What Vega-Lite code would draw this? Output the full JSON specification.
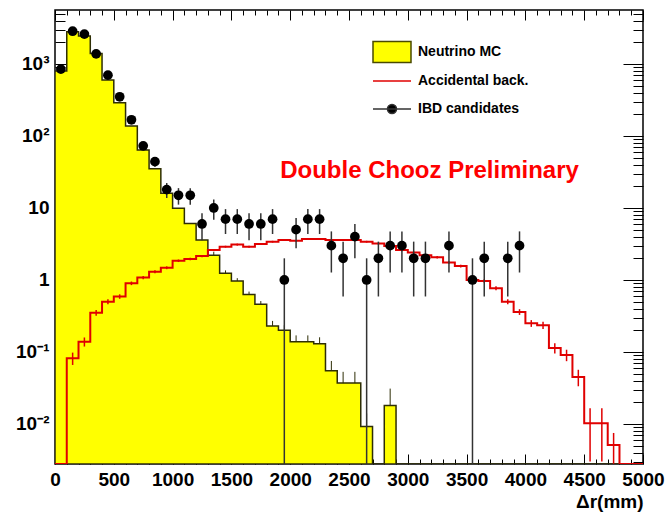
{
  "$schema": "https://vega.github.io/schema/vega-lite/v6.json",
  "width": 588,
  "height": 454,
  "autosize": {"type": "none"},
  "padding": {"left": 55, "top": 10, "right": 25, "bottom": 55},
  "background": "white",
  "config": {
    "view": {"stroke": "black", "strokeWidth": 1.5},
    "font": "Liberation Sans",
    "axis": {"grid": false},
    "legend": {
      "orient": "none", "title": null, "padding": 0,
      "labelFont": "Liberation Sans", "labelFontWeight": "bold", "labelFontSize": 14, "labelColor": "#000000",
      "labelOffset": 6, "symbolSize": 1444, "symbolStrokeWidth": 1.5, "symbolOpacity": 1
    }
  },
  "datasets": {
    "bins": [
      {"lo": 0, "c": 50, "mc": 800, "acc": 0},
      {"lo": 100, "c": 150, "mc": 2800, "acc": 0.082, "acc_lo": 0.066, "acc_hi": 0.098},
      {"lo": 200, "c": 250, "mc": 2450, "acc": 0.139, "acc_lo": 0.119, "acc_hi": 0.159},
      {"lo": 300, "c": 350, "mc": 1400, "acc": 0.35, "acc_lo": 0.318, "acc_hi": 0.382},
      {"lo": 400, "c": 450, "mc": 600, "acc": 0.5, "acc_lo": 0.461, "acc_hi": 0.539},
      {"lo": 500, "c": 550, "mc": 290, "acc": 0.59, "acc_lo": 0.548, "acc_hi": 0.632},
      {"lo": 600, "c": 650, "mc": 138, "acc": 0.9, "acc_lo": 0.848, "acc_hi": 0.952},
      {"lo": 700, "c": 750, "mc": 64, "acc": 1.08, "acc_lo": 1.023, "acc_hi": 1.137},
      {"lo": 800, "c": 850, "mc": 35, "acc": 1.3, "acc_lo": 1.238, "acc_hi": 1.362},
      {"lo": 900, "c": 950, "mc": 16, "acc": 1.48, "acc_lo": 1.413, "acc_hi": 1.547},
      {"lo": 1000, "c": 1050, "mc": 9.9, "acc": 1.85, "acc_lo": 1.775, "acc_hi": 1.925},
      {"lo": 1100, "c": 1150, "mc": 6.1, "acc": 1.96, "acc_lo": 1.883, "acc_hi": 2.037},
      {"lo": 1200, "c": 1250, "mc": 3.6, "acc": 2.15, "acc_lo": 2.07, "acc_hi": 2.23},
      {"lo": 1300, "c": 1350, "mc": 2.2, "mc_hi": 2.45, "acc": 2.6, "acc_lo": 2.51, "acc_hi": 2.69},
      {"lo": 1400, "c": 1450, "mc": 1.24, "mc_hi": 1.36, "acc": 2.9, "acc_lo": 2.81, "acc_hi": 2.99},
      {"lo": 1500, "c": 1550, "mc": 0.97, "mc_hi": 1.06, "acc": 3.1, "acc_lo": 3.0, "acc_hi": 3.2},
      {"lo": 1600, "c": 1650, "mc": 0.63, "mc_hi": 0.69, "acc": 2.9, "acc_lo": 2.81, "acc_hi": 2.99},
      {"lo": 1700, "c": 1750, "mc": 0.46, "mc_hi": 0.51, "acc": 3.16, "acc_lo": 3.06, "acc_hi": 3.26},
      {"lo": 1800, "c": 1850, "mc": 0.23, "mc_hi": 0.27, "acc": 3.4, "acc_lo": 3.3, "acc_hi": 3.5},
      {"lo": 1900, "c": 1950, "mc": 0.2, "mc_hi": 0.235, "acc": 3.6, "acc_lo": 3.5, "acc_hi": 3.7},
      {"lo": 2000, "c": 2050, "mc": 0.139, "mc_hi": 0.17, "acc": 3.5, "acc_lo": 3.4, "acc_hi": 3.6},
      {"lo": 2100, "c": 2150, "mc": 0.139, "mc_hi": 0.17, "acc": 3.7, "acc_lo": 3.6, "acc_hi": 3.8},
      {"lo": 2200, "c": 2250, "mc": 0.13, "mc_hi": 0.16, "acc": 3.7, "acc_lo": 3.6, "acc_hi": 3.8},
      {"lo": 2300, "c": 2350, "mc": 0.055, "mc_hi": 0.075, "acc": 3.6, "acc_lo": 3.5, "acc_hi": 3.7},
      {"lo": 2400, "c": 2450, "mc": 0.037, "mc_hi": 0.053, "acc": 3.6, "acc_lo": 3.5, "acc_hi": 3.7},
      {"lo": 2500, "c": 2550, "mc": 0.037, "mc_hi": 0.053, "acc": 3.6, "acc_lo": 3.5, "acc_hi": 3.7},
      {"lo": 2600, "c": 2650, "mc": 0.0092, "mc_hi": 0.014, "acc": 3.4, "acc_lo": 3.3, "acc_hi": 3.5},
      {"lo": 2700, "c": 2750, "mc": 0, "acc": 3.2, "acc_lo": 3.1, "acc_hi": 3.3},
      {"lo": 2800, "c": 2850, "mc": 0.018, "mc_hi": 0.031, "acc": 2.96, "acc_lo": 2.87, "acc_hi": 3.05},
      {"lo": 2900, "c": 2950, "mc": 0, "acc": 2.6, "acc_lo": 2.51, "acc_hi": 2.69},
      {"lo": 3000, "c": 3050, "mc": 0, "acc": 2.4, "acc_lo": 2.32, "acc_hi": 2.48},
      {"lo": 3100, "c": 3150, "mc": 0, "acc": 2.2, "acc_lo": 2.12, "acc_hi": 2.28},
      {"lo": 3200, "c": 3250, "mc": 0, "acc": 2.07, "acc_lo": 1.99, "acc_hi": 2.15},
      {"lo": 3300, "c": 3350, "mc": 0, "acc": 1.75, "acc_lo": 1.68, "acc_hi": 1.82},
      {"lo": 3400, "c": 3450, "mc": 0, "acc": 1.56, "acc_lo": 1.49, "acc_hi": 1.63},
      {"lo": 3500, "c": 3550, "mc": 0, "acc": 1.0, "acc_lo": 0.945, "acc_hi": 1.055},
      {"lo": 3600, "c": 3650, "mc": 0, "acc": 0.97, "acc_lo": 0.916, "acc_hi": 1.024},
      {"lo": 3700, "c": 3750, "mc": 0, "acc": 0.77, "acc_lo": 0.722, "acc_hi": 0.818},
      {"lo": 3800, "c": 3850, "mc": 0, "acc": 0.5, "acc_lo": 0.461, "acc_hi": 0.539},
      {"lo": 3900, "c": 3950, "mc": 0, "acc": 0.36, "acc_lo": 0.327, "acc_hi": 0.393},
      {"lo": 4000, "c": 4050, "mc": 0, "acc": 0.25, "acc_lo": 0.223, "acc_hi": 0.277},
      {"lo": 4100, "c": 4150, "mc": 0, "acc": 0.235, "acc_lo": 0.208, "acc_hi": 0.262},
      {"lo": 4200, "c": 4250, "mc": 0, "acc": 0.114, "acc_lo": 0.0955, "acc_hi": 0.1325},
      {"lo": 4300, "c": 4350, "mc": 0, "acc": 0.091, "acc_lo": 0.0745, "acc_hi": 0.1075},
      {"lo": 4400, "c": 4450, "mc": 0, "acc": 0.045, "acc_lo": 0.0334, "acc_hi": 0.0566},
      {"lo": 4500, "c": 4550, "mc": 0, "acc": 0.0102, "acc_lo": 0.003, "acc_hi": 0.0165},
      {"lo": 4600, "c": 4650, "mc": 0, "acc": 0.0102, "acc_lo": 0.003, "acc_hi": 0.0165},
      {"lo": 4700, "c": 4750, "mc": 0, "acc": 0.0051, "acc_lo": 0.0028, "acc_hi": 0.0075},
      {"lo": 4800, "c": 4850, "mc": 0, "acc": 0},
      {"lo": 4900, "c": 4950, "mc": 0, "acc": 0},
      {"lo": 5000, "mc": 0, "acc": 0}
    ],
    "ibd": [
      {"c": 50, "n": 850, "lo": 821, "hi": 879},
      {"c": 150, "n": 2850, "lo": 2797, "hi": 2903},
      {"c": 250, "n": 2600, "lo": 2549, "hi": 2651},
      {"c": 350, "n": 1380, "lo": 1343, "hi": 1417},
      {"c": 450, "n": 700, "lo": 674, "hi": 726},
      {"c": 550, "n": 350, "lo": 331, "hi": 369},
      {"c": 650, "n": 168, "lo": 155, "hi": 181},
      {"c": 750, "n": 73, "lo": 64.5, "hi": 81.5},
      {"c": 850, "n": 44, "lo": 37.4, "hi": 50.6},
      {"c": 950, "n": 18, "lo": 13.76, "hi": 22.24},
      {"c": 1050, "n": 15, "lo": 11.13, "hi": 18.87},
      {"c": 1150, "n": 15, "lo": 11.13, "hi": 18.87},
      {"c": 1250, "n": 6, "lo": 3.55, "hi": 8.45},
      {"c": 1350, "n": 10, "lo": 6.84, "hi": 13.16},
      {"c": 1450, "n": 7, "lo": 4.35, "hi": 9.65},
      {"c": 1550, "n": 7, "lo": 4.35, "hi": 9.65},
      {"c": 1650, "n": 6, "lo": 3.55, "hi": 8.45},
      {"c": 1750, "n": 6, "lo": 3.55, "hi": 8.45},
      {"c": 1850, "n": 7, "lo": 4.35, "hi": 9.65},
      {"c": 1950, "n": 1, "lo": 0, "hi": 2},
      {"c": 2050, "n": 5, "lo": 2.76, "hi": 7.24},
      {"c": 2150, "n": 7, "lo": 4.35, "hi": 9.65},
      {"c": 2250, "n": 7, "lo": 4.35, "hi": 9.65},
      {"c": 2350, "n": 3, "lo": 1.27, "hi": 4.73},
      {"c": 2450, "n": 2, "lo": 0.59, "hi": 3.41},
      {"c": 2550, "n": 4, "lo": 2, "hi": 6},
      {"c": 2650, "n": 1, "lo": 0, "hi": 2},
      {"c": 2750, "n": 2, "lo": 0.59, "hi": 3.41},
      {"c": 2850, "n": 3, "lo": 1.27, "hi": 4.73},
      {"c": 2950, "n": 3, "lo": 1.27, "hi": 4.73},
      {"c": 3050, "n": 2, "lo": 0.59, "hi": 3.41},
      {"c": 3150, "n": 2, "lo": 0.59, "hi": 3.41},
      {"c": 3350, "n": 3, "lo": 1.27, "hi": 4.73},
      {"c": 3550, "n": 1, "lo": 0, "hi": 2},
      {"c": 3650, "n": 2, "lo": 0.59, "hi": 3.41},
      {"c": 3850, "n": 2, "lo": 0.59, "hi": 3.41},
      {"c": 3950, "n": 3, "lo": 1.27, "hi": 4.73}
    ]
  },
  "resolve": {"axis": {"x": "independent", "y": "independent"}},
  "layer": [
    {
      "data": {"name": "bins"},
      "mark": {"type": "area", "interpolate": "step-after", "stroke": "#2e2e05", "strokeWidth": 1.5, "clip": true},
      "encoding": {
        "x": {"field": "lo", "type": "quantitative",
          "scale": {"domain": [0, 5000], "nice": false, "zero": false},
          "axis": {"orient": "bottom", "values": [0, 500, 1000, 1500, 2000, 2500, 3000, 3500, 4000, 4500, 5000], "format": "d",
            "ticks": false, "domain": false, "labelFont": "Liberation Sans", "labelFontWeight": "bold", "labelFontSize": 19,
            "labelColor": "black", "labelPadding": 6, "labelFlush": false, "labelOverlap": false,
            "title": "Δr(mm)", "titleAnchor": "end", "titleFont": "Liberation Sans", "titleFontWeight": "bold", "titleFontSize": 19,
            "titleColor": "black", "titlePadding": 3}},
        "y": {"field": "mc", "type": "quantitative",
          "scale": {"type": "log", "domain": [0.00278, 5623], "nice": false, "clamp": true},
          "axis": {"orient": "left", "values": [0.01, 0.1, 1, 10, 100, 1000],
            "labelExpr": "datum.value >= 999 ? '10³' : datum.value >= 99 ? '10²' : datum.value >= 9 ? '10' : datum.value >= 0.9 ? '1' : datum.value >= 0.09 ? '10⁻¹' : '10⁻²'",
            "ticks": false, "domain": false, "labelFont": "Liberation Sans", "labelFontWeight": "bold", "labelFontSize": 19,
            "labelColor": "black", "labelPadding": 6, "labelFlush": false, "labelOverlap": false, "title": null}},
        "y2": {"datum": 0},
        "fill": {"datum": "Neutrino MC", "type": "nominal",
          "scale": {"domain": ["Neutrino MC"], "range": ["#ffff00"]},
          "legend": {"legendX": 317, "legendY": 22, "symbolType": "M-1,-0.55H1V0.55H-1Z", "symbolStrokeColor": "#4a4a00"}}
      }
    },
    {
      "data": {"name": "bins"},
      "transform": [{"filter": "datum.mc_hi > 0"}],
      "mark": {"type": "rule", "color": "#2e2e05", "strokeWidth": 1},
      "encoding": {
        "x": {"field": "c", "type": "quantitative", "scale": {"domain": [0, 5000], "nice": false, "zero": false},
          "axis": {"orient": "bottom", "values": [0, 500, 1000, 1500, 2000, 2500, 3000, 3500, 4000, 4500, 5000],
            "labels": false, "domain": false, "ticks": true, "tickSize": -10, "tickColor": "black", "tickWidth": 1, "title": null}},
        "y": {"field": "mc", "type": "quantitative", "scale": {"type": "log", "domain": [0.00278, 5623], "nice": false, "clamp": true},
          "axis": {"orient": "left", "values": [0.01, 0.1, 1, 10, 100, 1000],
            "labels": false, "domain": false, "ticks": true, "tickSize": -20, "tickColor": "black", "tickWidth": 1, "title": null}},
        "y2": {"field": "mc_hi"}
      }
    },
    {
      "data": {"name": "bins"},
      "mark": {"type": "line", "interpolate": "step-after", "strokeWidth": 2, "clip": true},
      "encoding": {
        "x": {"field": "lo", "type": "quantitative", "scale": {"domain": [0, 5000], "nice": false, "zero": false},
          "axis": {"orient": "bottom", "values": [100, 200, 300, 400, 600, 700, 800, 900, 1100, 1200, 1300, 1400, 1600, 1700, 1800, 1900, 2100, 2200, 2300, 2400, 2600, 2700, 2800, 2900, 3100, 3200, 3300, 3400, 3600, 3700, 3800, 3900, 4100, 4200, 4300, 4400, 4600, 4700, 4800, 4900],
            "labels": false, "domain": false, "ticks": true, "tickSize": -5, "tickColor": "black", "tickWidth": 1, "title": null}},
        "y": {"field": "acc", "type": "quantitative", "scale": {"type": "log", "domain": [0.00278, 5623], "nice": false, "clamp": true},
          "axis": {"orient": "left", "values": [0.003, 0.004, 0.005, 0.006, 0.007, 0.008, 0.009, 0.02, 0.03, 0.04, 0.05, 0.06, 0.07, 0.08, 0.09, 0.2, 0.3, 0.4, 0.5, 0.6, 0.7, 0.8, 0.9, 2, 3, 4, 5, 6, 7, 8, 9, 20, 30, 40, 50, 60, 70, 80, 90, 200, 300, 400, 500, 600, 700, 800, 900, 2000, 3000, 4000, 5000],
            "labels": false, "domain": false, "ticks": true, "tickSize": -10, "tickColor": "black", "tickWidth": 1, "title": null}},
        "stroke": {"datum": "Accidental back.", "type": "nominal",
          "scale": {"domain": ["Accidental back."], "range": ["#e00000"]},
          "legend": {"legendX": 317, "legendY": 51, "symbolType": "M-1,0H1"}}
      }
    },
    {
      "data": {"name": "bins"},
      "transform": [{"filter": "datum.acc_hi > 0"}],
      "mark": {"type": "rule", "strokeWidth": 1.5, "color": "#e00000"},
      "encoding": {
        "x": {"field": "c", "type": "quantitative", "scale": {"domain": [0, 5000], "nice": false, "zero": false},
          "axis": {"orient": "top", "values": [0, 500, 1000, 1500, 2000, 2500, 3000, 3500, 4000, 4500, 5000],
            "labels": false, "domain": false, "ticks": true, "tickSize": -10, "tickColor": "black", "tickWidth": 1, "title": null}},
        "y": {"field": "acc_lo", "type": "quantitative", "scale": {"type": "log", "domain": [0.00278, 5623], "nice": false, "clamp": true},
          "axis": {"orient": "right", "values": [0.01, 0.1, 1, 10, 100, 1000],
            "labels": false, "domain": false, "ticks": true, "tickSize": -20, "tickColor": "black", "tickWidth": 1, "title": null}},
        "y2": {"field": "acc_hi"}
      }
    },
    {
      "data": {"name": "ibd"},
      "mark": {"type": "rule", "strokeWidth": 1.5, "clip": true},
      "encoding": {
        "x": {"field": "c", "type": "quantitative", "scale": {"domain": [0, 5000], "nice": false, "zero": false},
          "axis": {"orient": "top", "values": [100, 200, 300, 400, 600, 700, 800, 900, 1100, 1200, 1300, 1400, 1600, 1700, 1800, 1900, 2100, 2200, 2300, 2400, 2600, 2700, 2800, 2900, 3100, 3200, 3300, 3400, 3600, 3700, 3800, 3900, 4100, 4200, 4300, 4400, 4600, 4700, 4800, 4900],
            "labels": false, "domain": false, "ticks": true, "tickSize": -5, "tickColor": "black", "tickWidth": 1, "title": null}},
        "y": {"field": "lo", "type": "quantitative", "scale": {"type": "log", "domain": [0.00278, 5623], "nice": false, "clamp": true},
          "axis": {"orient": "right", "values": [0.003, 0.004, 0.005, 0.006, 0.007, 0.008, 0.009, 0.02, 0.03, 0.04, 0.05, 0.06, 0.07, 0.08, 0.09, 0.2, 0.3, 0.4, 0.5, 0.6, 0.7, 0.8, 0.9, 2, 3, 4, 5, 6, 7, 8, 9, 20, 30, 40, 50, 60, 70, 80, 90, 200, 300, 400, 500, 600, 700, 800, 900, 2000, 3000, 4000, 5000],
            "labels": false, "domain": false, "ticks": true, "tickSize": -10, "tickColor": "black", "tickWidth": 1, "title": null}},
        "y2": {"field": "hi"},
        "color": {"datum": "IBD candidates", "type": "nominal",
          "scale": {"domain": ["IBD candidates"], "range": ["#333333"]},
          "legend": {"legendX": 317, "legendY": 79, "symbolType": "M-1,0H1M0.24,0A0.24,0.24,0,1,1,-0.24,0A0.24,0.24,0,1,1,0.24,0Z", "symbolFillColor": "#000000"}}
      }
    },
    {
      "data": {"name": "ibd"},
      "mark": {"type": "point", "filled": true, "shape": "circle", "size": 95, "opacity": 1, "color": "#000000"},
      "encoding": {
        "x": {"field": "c", "type": "quantitative", "scale": {"domain": [0, 5000], "nice": false, "zero": false}, "axis": null},
        "y": {"field": "n", "type": "quantitative", "scale": {"type": "log", "domain": [0.00278, 5623], "nice": false, "clamp": true}, "axis": null}
      }
    },
    {
      "data": {"values": [{"label": "Double Chooz Preliminary", "x": 3185, "y": 32.6}]},
      "mark": {"type": "text", "font": "Liberation Sans", "fontWeight": "bold", "fontSize": 24, "color": "#ff0000", "align": "center", "baseline": "middle"},
      "encoding": {
        "x": {"field": "x", "type": "quantitative", "scale": {"domain": [0, 5000], "nice": false, "zero": false}, "axis": null},
        "y": {"field": "y", "type": "quantitative", "scale": {"type": "log", "domain": [0.00278, 5623], "nice": false, "clamp": true}, "axis": null},
        "text": {"field": "label"}
      }
    }
  ]
}
